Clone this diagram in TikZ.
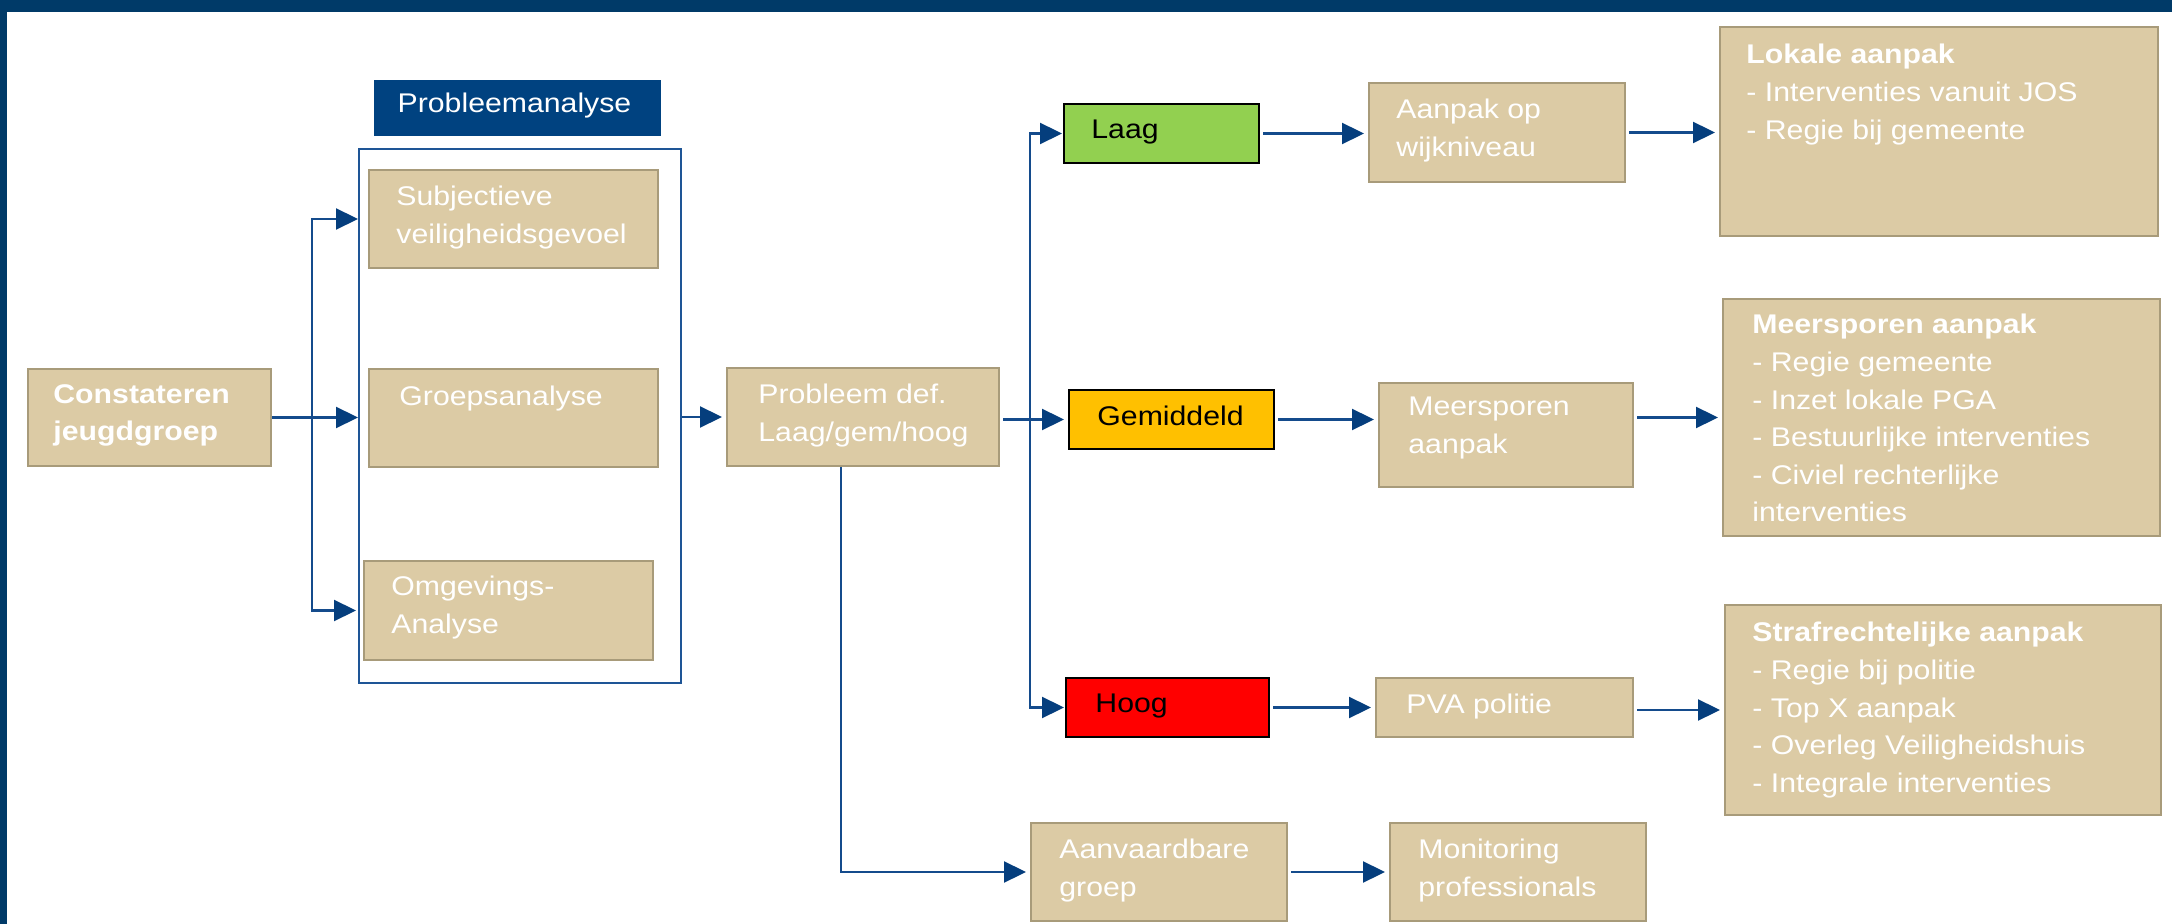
\documentclass[tikz,border=0pt]{standalone}
\usepackage{fontspec}
\setmainfont{Liberation Sans}[FakeStretch=1.12]
\usetikzlibrary{fit,calc,arrows.meta}
\definecolor{navy}{RGB}{0,58,104}
\definecolor{hdrblue}{RGB}{0,66,128}
\definecolor{tanfill}{RGB}{220,203,165}
\definecolor{tanedge}{RGB}{168,155,122}
\definecolor{linkblue}{RGB}{20,75,140}
\definecolor{headblue}{RGB}{5,62,125}
\definecolor{frameblue}{RGB}{30,85,150}
\definecolor{lgreen}{RGB}{146,208,80}
\definecolor{amber}{RGB}{255,192,0}
\definecolor{hired}{RGB}{255,0,0}
\begin{document}
\begin{tikzpicture}[x=0.5pt,y=-0.5pt,
  tanbox/.style={draw=tanedge, fill=tanfill, line width=1pt, inner sep=0pt},
  lvlbox/.style={draw=black, line width=1pt, inner sep=0pt},
  txt/.style={text=white, inner sep=0pt, anchor=north west, align=left, font=\fontsize{13.5}{18.8}\selectfont},
  dtxt/.style={txt, text=black},
  arr/.style={draw=linkblue, line width=1.1pt, -{Triangle[length=11pt,width=10.5pt,color=headblue]}, shorten <=1.5pt, shorten >=2pt},
]
\useasboundingbox (0,0) rectangle (2172,924);
\fill[white] (0,0) rectangle (2172,924);
\fill[navy] (0,0) rectangle (2172,12);
\fill[navy] (0,0) rectangle (7,924);

% header and frame
\node[fill=hdrblue, inner sep=0pt, fit={(374,80) (661,136)}] (hdr) {};
\node[text=white, inner sep=0pt, font=\fontsize{13.5}{18.8}\selectfont] (hdrT) at ($(hdr.center)+(-3,-2)$) {Probleemanalyse};
\node[draw=frameblue, line width=1pt, inner sep=0pt, fit={(359,149) (681,683)}] (frame) {};

% boxes
\node[tanbox, fit={(28,369) (271,466)}] (const) {};
\node[tanbox, fit={(369,170) (658,268)}] (subj) {};
\node[tanbox, fit={(369,369) (658,467)}] (groep) {};
\node[tanbox, fit={(364,561) (653,660)}] (omg) {};
\node[tanbox, fit={(727,368) (999,466)}] (prob) {};
\node[lvlbox, fill=lgreen, fit={(1064,104) (1259,163)}] (laag) {};
\node[lvlbox, fill=amber, fit={(1069,390) (1274,449)}] (gem) {};
\node[lvlbox, fill=hired, fit={(1066,678) (1269,737)}] (hoog) {};
\node[tanbox, fit={(1369,83) (1625,182)}] (aanpak) {};
\node[tanbox, fit={(1379,383) (1633,487)}] (meer) {};
\node[tanbox, fit={(1376,678) (1633,737)}] (pva) {};
\node[tanbox, fit={(1031,823) (1287,921)}] (aanv) {};
\node[tanbox, fit={(1390,823) (1646,921)}] (mon) {};
\node[tanbox, fit={(1720,27) (2158,236)}] (lok) {};
\node[tanbox, fit={(1723,299) (2160,536)}] (meer2) {};
\node[tanbox, fit={(1725,605) (2161,815)}] (straf) {};

% texts
\node[txt] (constT) at ($(const.north west)+(26,16)$) {\bfseries Constateren\\\bfseries jeugdgroep};
\node[txt] (subjT) at ($(subj.north west)+(28,17)$) {Subjectieve\\veiligheidsgevoel};
\node[txt] (groepT) at ($(groep.north west)+(31,18)$) {Groepsanalyse};
\node[txt] (omgT) at ($(omg.north west)+(28,16)$) {Omgevings-\\Analyse};
\node[txt] (probT) at ($(prob.north west)+(32,17)$) {Probleem def.\\Laag/gem/hoog};
\node[dtxt] (laagT) at ($(laag.north west)+(28,17)$) {Laag};
\node[dtxt] (gemT) at ($(gem.north west)+(29,17)$) {Gemiddeld};
\node[dtxt] (hoogT) at ($(hoog.north west)+(30,17)$) {Hoog};
\node[txt] (aanpakT) at ($(aanpak.north west)+(28,17)$) {Aanpak op\\wijkniveau};
\node[txt] (meerT) at ($(meer.north west)+(30,15)$) {Meersporen\\aanpak};
\node[txt] (pvaT) at ($(pva.north west)+(31,17)$) {PVA politie};
\node[txt] (aanvT) at ($(aanv.north west)+(29,17)$) {Aanvaardbare\\groep};
\node[txt] (monT) at ($(mon.north west)+(29,17)$) {Monitoring\\professionals};
\node[txt] (lokT) at ($(lok.north west)+(27,18)$) {\bfseries Lokale aanpak\\- Interventies vanuit JOS\\- Regie bij gemeente};
\node[txt] (meer2T) at ($(meer2.north west)+(30,16)$) {\bfseries Meersporen aanpak\\- Regie gemeente\\- Inzet lokale PGA\\- Bestuurlijke interventies\\- Civiel rechterlijke\\interventies};
\node[txt] (strafT) at ($(straf.north west)+(28,18)$) {\bfseries Strafrechtelijke aanpak\\- Regie bij politie\\- Top X aanpak\\- Overleg Veiligheidshuis\\- Integrale interventies};

% connectors
\coordinate (busA) at (312,418);
\draw[arr, shorten <=0pt] (const.east) -- (const.east -| busA) |- ([xshift=-3pt]subj.west);
\draw[arr, shorten <=0pt] (const.east) -- ([xshift=-3pt]groep.west |- const.east);
\draw[arr, shorten <=0pt] (const.east -| busA) |- ([xshift=-1.5pt]omg.west);
\draw[arr, shorten <=0pt] (frame.east |- prob.west) -- (prob.west);
\coordinate (busB) at (1030,419);
\draw[arr] (prob.east |- gem.west) -- (gem.west);
\draw[arr, shorten <=0pt, shorten >=0.5pt] (busB) |- (laag.west);
\draw[arr, shorten <=0pt, shorten >=0.5pt] (busB) |- (hoog.west);
\draw[arr] (laag.east) -- (aanpak.west |- laag.east);
\draw[arr] (gem.east) -- (meer.west |- gem.east);
\draw[arr] (hoog.east) -- (pva.west |- hoog.east);
\draw[arr] (aanpak.east) -- (lok.west |- aanpak.east);
\draw[arr] (meer.east |- meer2.west) -- (meer2.west);
\draw[arr] (pva.east |- straf.west) -- (straf.west);
\draw[arr, shorten <=0pt] ([xshift=-11pt]prob.south) |- (aanv.west);
\draw[arr] (aanv.east) -- (mon.west);
\end{tikzpicture}
\end{document}
